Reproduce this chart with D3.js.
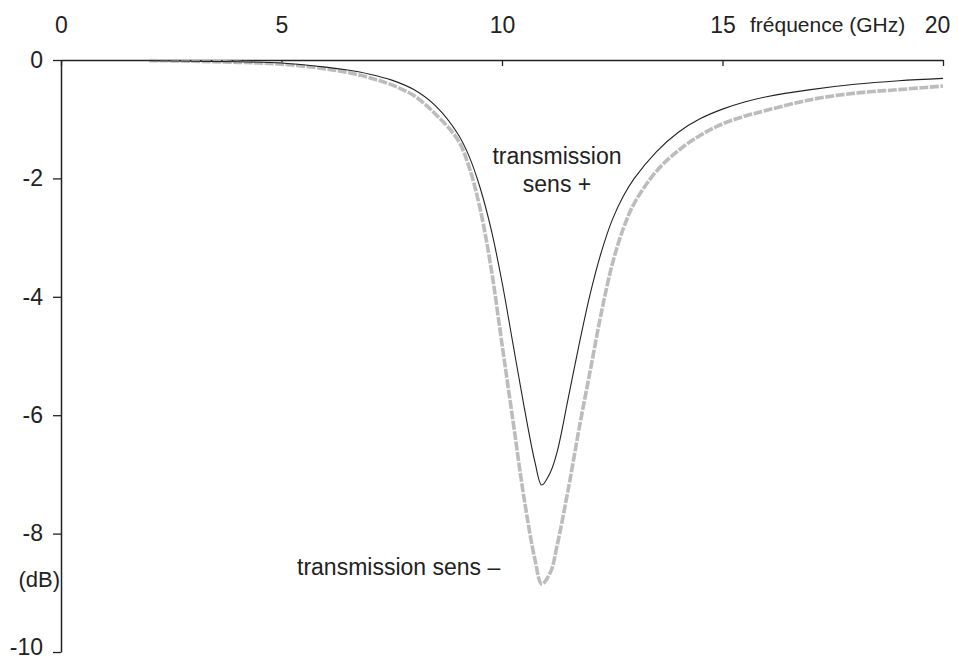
<!DOCTYPE html>
<html>
<head>
<meta charset="utf-8">
<script src="https://cdn.jsdelivr.net/npm/d3@7"></script>
<style>
  html, body { margin: 0; padding: 0; background: #fff; }
  svg { display: block; }
  text { font-family: "Liberation Sans", Arial, sans-serif; fill: #222; }
</style>
</head>
<body>
<svg id="chart" width="959" height="661"></svg>
<script>
// Frequency grid (GHz)
const freq = [2, 3, 4, 5, 6, 6.5, 7, 7.5, 8, 8.5, 9, 9.25, 9.5, 9.75, 10, 10.25, 10.5, 10.75, 10.9,
              11.1, 11.25, 11.5, 11.75, 12, 12.25, 12.5, 12.75, 13, 13.5, 14, 14.5, 15, 15.5, 16, 17, 18, 19, 20];
// Transmission, forward direction (dB)
const sensPlus = [-0.01, -0.02, -0.03, -0.05, -0.12, -0.17, -0.24, -0.34, -0.50, -0.78, -1.25, -1.62, -2.15, -2.85,
                  -3.75, -4.80, -5.85, -6.80, -7.18, -6.96, -6.62, -5.72, -4.80, -3.95, -3.25, -2.70, -2.30, -2.00,
                  -1.55, -1.22, -0.99, -0.83, -0.71, -0.62, -0.50, -0.41, -0.35, -0.31];
// Transmission, reverse direction (dB)
const sensMinus = [-0.01, -0.02, -0.04, -0.07, -0.15, -0.21, -0.30, -0.42, -0.60, -0.92, -1.35, -1.80, -2.50, -3.50,
                   -4.80, -6.10, -7.40, -8.45, -8.85, -8.65, -8.20, -7.26, -6.22, -5.25, -4.28, -3.45, -2.85, -2.42,
                   -1.88, -1.53, -1.27, -1.08, -0.95, -0.85, -0.67, -0.56, -0.50, -0.44];
const xTicks = [0, 5, 10, 15, 20];
const yTicks = [0, -2, -4, -6, -8, -10];

const svg = d3.select("#chart");
const x = d3.scaleLinear().domain([0, 20]).range([61, 943]);
const y = d3.scaleLinear().domain([-10, 0]).range([652, 60]);
const fmt = d => String(d);   // plain hyphen for negatives

// Top frequency axis, ticks pointing into the plot
const xAxis = svg.append("g")
  .attr("transform", `translate(0,${y(0)})`)
  .call(d3.axisTop(x).tickValues(xTicks).tickSizeInner(-6).tickSizeOuter(0).tickPadding(27).tickFormat(fmt));
xAxis.select(".domain").attr("stroke", "#222").attr("stroke-width", 1.5);
xAxis.selectAll(".tick line").attr("stroke", "#222").attr("stroke-width", 1.3);
xAxis.selectAll(".tick text").attr("font-size", 23).attr("fill", "#222")
  .attr("font-family", '"Liberation Sans", Arial, sans-serif');
xAxis.selectAll(".tick").filter(d => d === 20).select("text").attr("dx", -6);

// Left dB axis
const yAxis = svg.append("g")
  .attr("transform", `translate(${x(0)},0)`)
  .call(d3.axisLeft(y).tickValues(yTicks).tickSizeInner(8).tickSizeOuter(0).tickPadding(10).tickFormat(fmt));
yAxis.select(".domain").attr("stroke", "#222").attr("stroke-width", 1.5);
yAxis.selectAll(".tick line").attr("stroke", "#222").attr("stroke-width", 1.3);
yAxis.selectAll(".tick text").attr("font-size", 23).attr("fill", "#222")
  .attr("font-family", '"Liberation Sans", Arial, sans-serif');
yAxis.selectAll(".tick").filter(d => d === -10).select("text").attr("dy", "0.1em");

// Axis titles
svg.append("text").attr("x", 750).attr("y", 32).attr("font-size", 21).text("fréquence (GHz)");
svg.append("text").attr("x", 60).attr("y", 587).attr("text-anchor", "end").attr("font-size", 22).text("(dB)");

const line = d3.line().x(d => x(d[0])).y(d => y(d[1])).curve(d3.curveCatmullRom.alpha(0.5));

// Reverse transmission: thick light grey dashed trace
svg.append("path")
  .datum(freq.map((f, i) => [f, sensMinus[i]]))
  .attr("d", line)
  .attr("fill", "none")
  .attr("stroke", "#bcbcbc")
  .attr("stroke-width", 3.6)
  .attr("stroke-dasharray", "9,1.5");

// Forward transmission: thin dark trace
svg.append("path")
  .datum(freq.map((f, i) => [f, sensPlus[i]]))
  .attr("d", line)
  .attr("fill", "none")
  .attr("stroke", "#222")
  .attr("stroke-width", 1.1);

// Curve annotations
const ann = svg.append("g").attr("font-size", 23);
ann.append("text").attr("x", 557).attr("y", 164).attr("text-anchor", "middle").text("transmission");
ann.append("text").attr("x", 557).attr("y", 192).attr("text-anchor", "middle").text("sens +");
ann.append("text").attr("x", 297).attr("y", 575).text("transmission sens \u2013");
</script>
</body>
</html>
